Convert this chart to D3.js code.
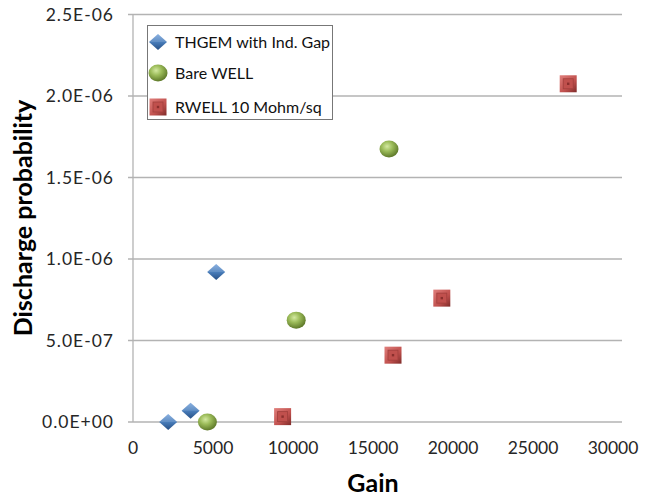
<!DOCTYPE html>
<html>
<head>
<meta charset="utf-8">
<script src="https://cdn.jsdelivr.net/npm/d3@7"></script>
<style>
  body { margin: 0; background: #fff; }
  svg { font-family: Lato, "Open Sans", sans-serif; }
</style>
</head>
<body>
<svg width="650" height="497"></svg>
<script>
// data
const seriesNames = ["THGEM with Ind. Gap", "Bare WELL", "RWELL 10 Mohm/sq"];
const thgemGain = [2200, 3600, 5200];
const thgemProb = [0, 6.9e-8, 9.2e-7];
const bareGain = [4650, 10200, 16000];
const bareProb = [0, 6.25e-7, 1.675e-6];
const rwellGain = [9350, 16250, 19300, 27200];
const rwellProb = [3.3e-8, 4.1e-7, 7.6e-7, 2.075e-6];

const xTicks = [0, 5000, 10000, 15000, 20000, 25000, 30000];
const yTicks = [0, 5e-7, 1e-6, 1.5e-6, 2e-6, 2.5e-6];
const yTickLabels = ["0.0E+00", "5.0E-07", "1.0E-06", "1.5E-06", "2.0E-06", "2.5E-06"];

let svg = d3.select("svg");

let x = d3.scaleLinear().domain([0, 30000]).range([133, 613]);
let y = d3.scaleLinear().domain([0, 2.5e-6]).range([422, 14.5]);

// gradients for the 3d-ish markers
let defs = svg.append("defs");
let gBlue = defs.append("linearGradient").attr("id", "gBlue")
  .attr("x1", 0).attr("y1", 0).attr("x2", 0).attr("y2", 1);
gBlue.append("stop").attr("offset", "0%").attr("stop-color", "#7aa6dc");
gBlue.append("stop").attr("offset", "50%").attr("stop-color", "#4a7ebb");
gBlue.append("stop").attr("offset", "100%").attr("stop-color", "#264f85");

let gGreen = defs.append("radialGradient").attr("id", "gGreen")
  .attr("cx", "40%").attr("cy", "35%").attr("r", "65%");
gGreen.append("stop").attr("offset", "0%").attr("stop-color", "#d3e9a0");
gGreen.append("stop").attr("offset", "45%").attr("stop-color", "#9bbb59");
gGreen.append("stop").attr("offset", "100%").attr("stop-color", "#5f7a2a");

let gRed = defs.append("linearGradient").attr("id", "gRed")
  .attr("x1", 0).attr("y1", 0).attr("x2", 1).attr("y2", 1);
gRed.append("stop").attr("offset", "0%").attr("stop-color", "#e07f7c");
gRed.append("stop").attr("offset", "60%").attr("stop-color", "#c0504d");
gRed.append("stop").attr("offset", "100%").attr("stop-color", "#7e2b29");

// gridlines
svg.append("g")
  .selectAll("line")
  .data(yTicks)
  .enter().append("line")
    .attr("x1", x(0) - 5)
    .attr("x2", x(30000) + 9)
    .attr("y1", d => y(d))
    .attr("y2", d => y(d))
    .attr("stroke", "#b3b3b3")
    .attr("stroke-width", 1.3);

// left axis line
svg.append("line")
  .attr("x1", x(0)).attr("x2", x(0))
  .attr("y1", y(2.5e-6)).attr("y2", y(0))
  .attr("stroke", "#b3b3b3")
  .attr("stroke-width", 1.3);

// tick labels
svg.append("g")
  .selectAll("text")
  .data(yTicks)
  .enter().append("text")
    .attr("x", 114)
    .attr("y", d => y(d))
    .attr("dy", "0.35em")
    .attr("text-anchor", "end")
    .attr("font-size", 17.5)
    .attr("letter-spacing", 1)
    .attr("fill", "#262626")
    .text((d, i) => yTickLabels[i]);

svg.append("g")
  .selectAll("text")
  .data(xTicks)
  .enter().append("text")
    .attr("x", d => x(d))
    .attr("y", 448)
    .attr("dy", "0.35em")
    .attr("text-anchor", "middle")
    .attr("font-size", 17.5)
    .attr("fill", "#262626")
    .text(d => d);

// axis titles
svg.append("text")
  .attr("x", 373)
  .attr("y", 483)
  .attr("dy", "0.35em")
  .attr("text-anchor", "middle")
  .attr("font-size", 25)
  .attr("font-weight", "bold")
  .text("Gain");

svg.append("text")
  .attr("transform", "translate(23,218) rotate(-90)")
  .attr("dy", "0.35em")
  .attr("text-anchor", "middle")
  .attr("font-size", 25)
  .attr("font-weight", "bold")
  .text("Discharge probability");

// marker drawers
function diamond(sel) {
  sel.append("path").attr("d", "M0,-8L9,0L0,8L-9,0Z").attr("fill", "url(#gBlue)");
  sel.append("path").attr("d", "M-9,0L0,-8L9,0Z").attr("fill", "#fff").attr("opacity", 0.12);
}
function ball(sel) {
  sel.append("ellipse").attr("rx", 9.5).attr("ry", 8.5).attr("fill", "url(#gGreen)");
}
function square(sel) {
  sel.append("rect").attr("x", -8.5).attr("y", -8.5).attr("width", 17).attr("height", 17)
    .attr("fill", "url(#gRed)");
  sel.append("rect").attr("x", -5).attr("y", -5).attr("width", 10).attr("height", 10)
    .attr("fill", "#c0504d").attr("stroke", "#a13f3c").attr("stroke-width", 0.8);
  sel.append("rect").attr("x", -1.2).attr("y", -1.2).attr("width", 2.4).attr("height", 2.4)
    .attr("fill", "#8a2f2d");
}

function drawSeries(gains, probs, drawer) {
  svg.append("g")
    .selectAll("g")
    .data(gains.map((g, i) => [g, probs[i]]))
    .enter().append("g")
      .attr("transform", d => "translate(" + x(d[0]) + "," + y(d[1]) + ")")
      .each(function() { drawer(d3.select(this)); });
}

drawSeries(thgemGain, thgemProb, diamond);
drawSeries(bareGain, bareProb, ball);
drawSeries(rwellGain, rwellProb, square);

// legend
let legend = svg.append("g");
legend.append("rect")
  .attr("x", 147.5).attr("y", 25.5)
  .attr("width", 185).attr("height", 94)
  .attr("fill", "#fff")
  .attr("stroke", "#777")
  .attr("stroke-width", 1);

let drawers = [diamond, ball, square];
let legendY = [42, 73, 107];
seriesNames.forEach(function(name, i) {
  let item = legend.append("g").attr("transform", "translate(158," + legendY[i] + ")");
  drawers[i](item);
  legend.append("text")
    .attr("x", 175)
    .attr("y", legendY[i])
    .attr("dy", "0.35em")
    .attr("font-size", 16)
    .attr("fill", "#111")
    .text(name);
});
</script>
</body>
</html>
